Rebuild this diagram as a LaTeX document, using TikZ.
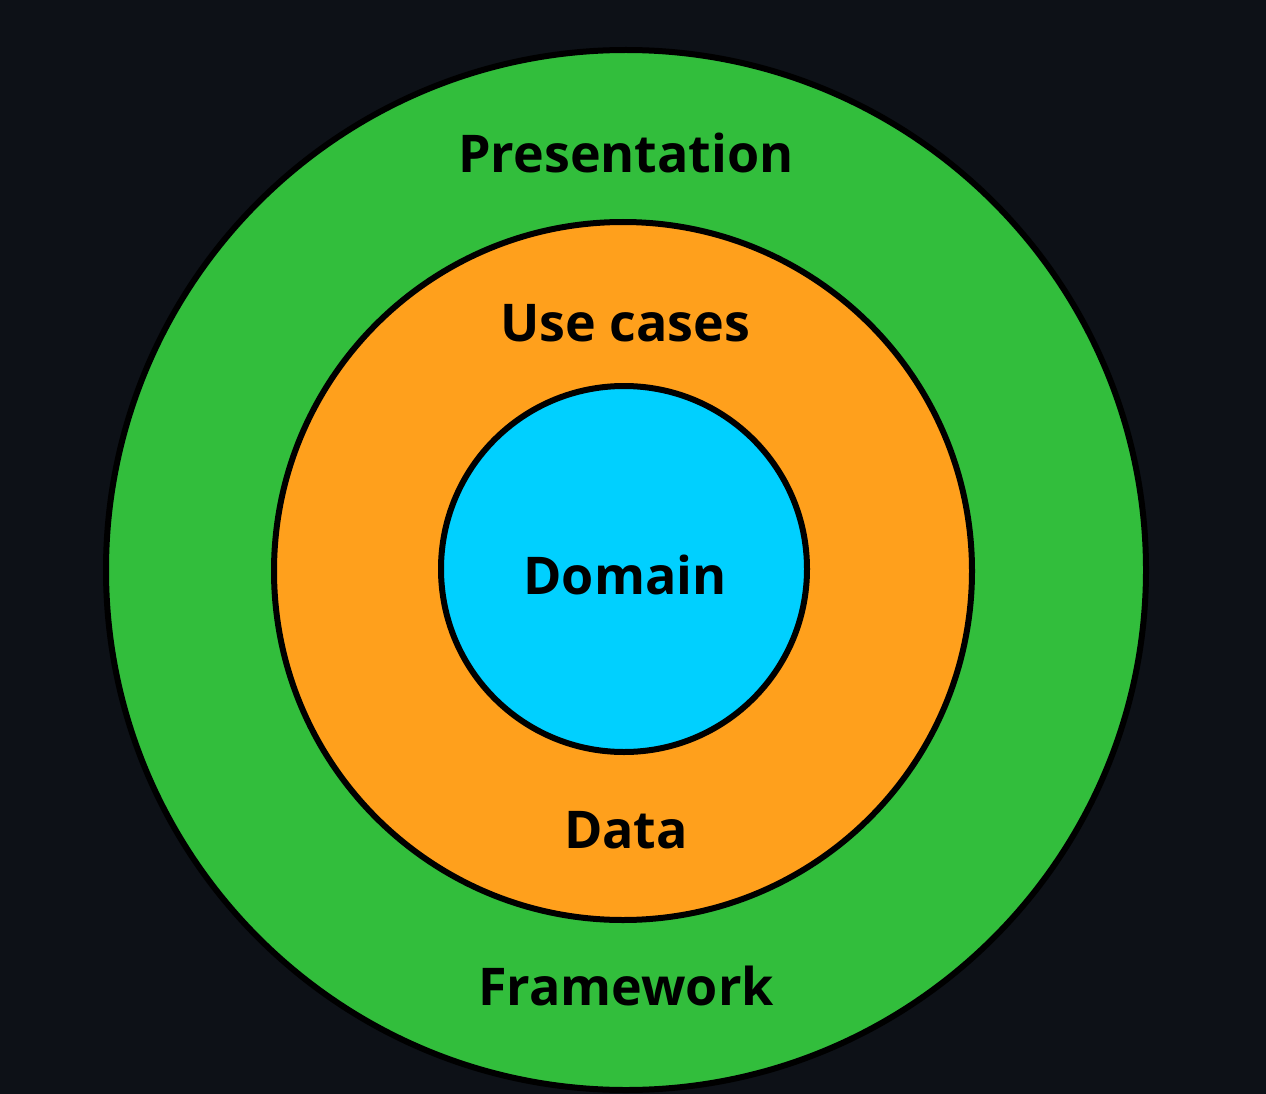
\documentclass[tikz,border=0pt]{standalone}
\usepackage{fontspec}
\setmainfont{Open Sans}
\definecolor{bg}{HTML}{0D1117}
\definecolor{ringgreen}{HTML}{32BE3C}
\definecolor{ringorange}{HTML}{FFA01C}
\definecolor{coreblue}{HTML}{00D0FF}
\tikzset{
  ring/.style={draw=black, line width=6pt},
  lbl/.style={anchor=base, text=black, font=\fontsize{52}{60}\selectfont\bfseries, inner sep=0pt}
}
\begin{document}
\begin{tikzpicture}[x=1pt,y=-1pt]
\fill[bg] (0,0) rectangle (1266,1094);
\useasboundingbox (0,0) rectangle (1266,1094);
\draw[ring, fill=ringgreen] (626,570) circle (520);
\draw[ring, fill=ringorange] (623,571) circle (349);
\draw[ring, fill=coreblue] (624,569) circle (183);
\node[lbl] (pres) at (626,173) {Presentation};
\node[lbl] (use) at (625,341) {Use cases};
\node[lbl] (dom) at (625,594) {Domain};
\node[lbl] (data) at (626,848) {Data};
\node[lbl] (frame) at (626,1005) {Framework};
\end{tikzpicture}
\end{document}
